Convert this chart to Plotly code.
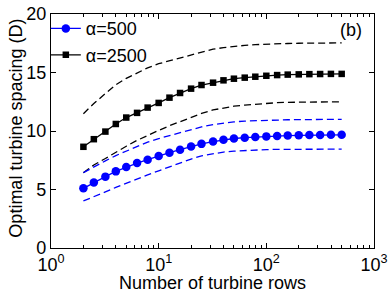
import plotly.graph_objects as go

rows = [2, 2.5, 3.2, 4, 5, 6.3, 7.9, 10, 12.6, 15.8, 20, 25, 32, 40, 50,
        63, 79, 100, 126, 158, 200, 251, 316, 398, 501]

alpha500 = [5.1, 5.6, 6.1, 6.55, 6.92, 7.26, 7.55, 7.87, 8.15, 8.4, 8.68, 8.9,
            9.1, 9.25, 9.36, 9.43, 9.49, 9.54, 9.58, 9.61, 9.63, 9.65, 9.66,
            9.67, 9.67]
alpha500_hi = [6.44, 6.95, 7.45, 7.9, 8.3, 8.7, 9.05, 9.35, 9.6, 9.85, 10.1,
               10.35, 10.55, 10.68, 10.78, 10.85, 10.89, 10.92, 10.94, 10.96,
               10.97, 10.98, 10.99, 11.0, 11.0]
alpha500_lo = [4.02, 4.42, 4.8, 5.18, 5.55, 5.9, 6.25, 6.6, 6.95, 7.3, 7.6,
               7.88, 8.08, 8.2, 8.28, 8.34, 8.38, 8.41, 8.43, 8.44, 8.45, 8.45,
               8.45, 8.45, 8.45]

alpha2500 = [8.65, 9.3, 9.95, 10.6, 11.15, 11.55, 12.0, 12.4, 12.85, 13.25,
             13.62, 13.93, 14.13, 14.33, 14.47, 14.56, 14.64, 14.72, 14.78,
             14.82, 14.84, 14.86, 14.87, 14.88, 14.88]
alpha2500_hi = [11.48, 12.35, 13.2, 13.95, 14.5, 14.95, 15.4, 15.75, 16.0,
                16.25, 16.55, 16.78, 17.0, 17.12, 17.23, 17.32, 17.38, 17.43,
                17.46, 17.48, 17.5, 17.51, 17.52, 17.53, 17.53]
alpha2500_lo = [6.44, 7.1, 7.65, 8.2, 8.7, 9.2, 9.65, 10.05, 10.45, 10.8,
                11.15, 11.5, 11.8, 11.98, 12.12, 12.22, 12.3, 12.37, 12.42,
                12.45, 12.47, 12.48, 12.49, 12.5, 12.5]

x_tickvals = [1, 10, 100, 1000]
x_ticktext = ["10<sup>0</sup>", "10<sup>1</sup>", "10<sup>2</sup>", "10<sup>3</sup>"]
x_minorvals = [m * d for d in (1, 10, 100) for m in range(2, 10)]

BLUE = "rgb(0,0,255)"
FONT = "Liberation Sans, Arial, sans-serif"
dash = "7px,4px"
FS = 18

fig = go.Figure()
for yv, col in [(alpha2500_hi, "black"), (alpha2500_lo, "black"),
                (alpha500_hi, BLUE), (alpha500_lo, BLUE)]:
    fig.add_trace(go.Scatter(x=rows, y=yv, mode="lines", showlegend=False,
                             line=dict(color=col, width=1.3, dash=dash)))

fig.add_trace(go.Scatter(x=rows, y=alpha500, mode="lines+markers", name="α=500",
                         line=dict(color=BLUE, width=1.3),
                         marker=dict(symbol="circle", size=8.5, color=BLUE)))
fig.add_trace(go.Scatter(x=rows, y=alpha2500, mode="lines+markers", name="α=2500",
                         line=dict(color="black", width=1.3),
                         marker=dict(symbol="square", size=6.5, color="black")))

fig.update_layout(
    width=390, height=294,
    margin=dict(l=51, r=16, t=14, b=46, autoexpand=False),
    paper_bgcolor="white", plot_bgcolor="white",
    font=dict(family=FONT, size=FS, color="black"),
    legend=dict(x=-0.016, y=1.016, xanchor="left", yanchor="top",
                bgcolor="rgba(0,0,0,0)", font=dict(size=FS),
                tracegroupgap=0, itemwidth=30),
    annotations=[
        dict(x=0.968, y=0.985, xref="paper", yref="paper", text="(b)",
             showarrow=False, xanchor="right", yanchor="top",
             font=dict(size=FS)),
        dict(x=0.5, y=-0.148, xref="paper", yref="paper",
             text="Number of turbine rows", showarrow=False,
             xanchor="center", yanchor="middle", font=dict(size=FS)),
        dict(x=-0.107, y=0.512, xref="paper", yref="paper",
             text="Optimal turbine spacing (D)", showarrow=False,
             textangle=-90, xanchor="center", yanchor="middle",
             font=dict(size=FS)),
    ],
)

fig.update_xaxes(type="log", range=[0, 3], showline=True, linecolor="black",
                 linewidth=1.2, mirror="ticks", ticks="inside", ticklen=5,
                 tickcolor="black", tickwidth=1, showgrid=False, zeroline=False,
                 tickmode="array", tickvals=x_tickvals, ticktext=x_ticktext,
                 minor=dict(ticks="inside", ticklen=3, tickcolor="black",
                            tickmode="array", tickvals=x_minorvals,
                            showgrid=False),
                 tickfont=dict(size=FS))
fig.update_yaxes(range=[0, 20], showline=True, linecolor="black", linewidth=1.2,
                 mirror="ticks", ticks="inside", ticklen=5, tickcolor="black",
                 tickwidth=1, showgrid=False, zeroline=False, dtick=5,
                 tickfont=dict(size=FS))

fig.write_html("out.html",
               config={"displayModeBar": False},
               post_script="document.body.style.margin='0';")
